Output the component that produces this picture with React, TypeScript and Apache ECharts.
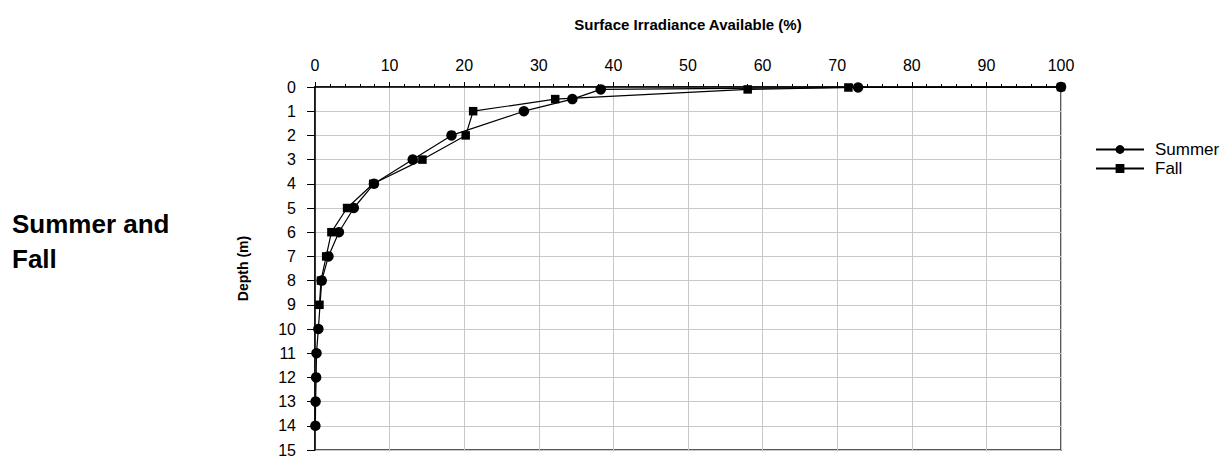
import React, { useEffect, useRef } from "react";
import * as echarts from "echarts";

// Depth (m) and surface irradiance available (%)
const summerDepth = [0, 0.02, 0.1, 0.5, 1, 2, 3, 4, 5, 6, 7, 8, 10, 11, 12, 13, 14];
const summerIrr = [100, 72.8, 38.3, 34.5, 28, 18.3, 13.1, 7.9, 5.2, 3.2, 1.8, 0.9, 0.45, 0.2, 0.15, 0.08, 0.05];

const fallDepth = [0, 0.02, 0.1, 0.5, 1, 2, 3, 4, 5, 6, 7, 8, 9];
const fallIrr = [100, 71.5, 58, 32.2, 21.2, 20.2, 14.4, 7.8, 4.3, 2.2, 1.5, 0.8, 0.6];

const seriesNames = ["Summer", "Fall"];
const xTitle = "Surface Irradiance Available (%)";
const yTitle = "Depth (m)";
const sideTitle = "Summer and\nFall";

const FONT = "'Liberation Sans', Arial, Helvetica, sans-serif";

export default function App() {
  const ref = useRef<HTMLDivElement>(null);
  useEffect(() => {
    if (!ref.current) return;
    const chart = echarts.init(ref.current, undefined, { renderer: "svg" });
    const summer = summerDepth.map((d, i) => [summerIrr[i], d]);
    const fall = fallDepth.map((d, i) => [fallIrr[i], d]);
    chart.setOption({
      animation: false,
      backgroundColor: "#fff",
      textStyle: { fontFamily: FONT },
      grid: {
        left: 315,
        right: 163,
        top: 87,
        bottom: 7,
        show: true,
        borderColor: "#222",
        borderWidth: 1.5,
        backgroundColor: "transparent",
      },
      legend: {
        data: seriesNames,
        orient: "vertical",
        left: 1090,
        top: 136,
        itemWidth: 48,
        itemHeight: 11,
        itemGap: 2,
        textStyle: { fontSize: 17, color: "#000", fontFamily: FONT, padding: [0, 0, 0, 6] },
      },
      graphic: [
        {
          type: "text",
          left: 12,
          top: 206,
          style: {
            text: sideTitle,
            font: `bold 26px ${FONT}`,
            fill: "#000",
            lineHeight: 35,
          },
        },
      ],
      xAxis: {
        type: "value",
        position: "top",
        min: 0,
        max: 100,
        interval: 10,
        name: xTitle,
        nameLocation: "middle",
        nameGap: 55,
        nameTextStyle: { fontSize: 15, fontWeight: "bold", color: "#000", fontFamily: FONT },
        axisLine: { show: true, lineStyle: { color: "#000", width: 1.5 } },
        axisTick: { show: true, inside: false, length: 5, lineStyle: { color: "#000" } },
        minorTick: { show: true, splitNumber: 5, length: 3, lineStyle: { color: "#000" } },
        axisLabel: { fontSize: 16, color: "#000", margin: 14, fontFamily: FONT },
        splitLine: { show: true, lineStyle: { color: "#c8c8c8", width: 1 } },
      },
      yAxis: {
        type: "value",
        inverse: true,
        min: 0,
        max: 15,
        interval: 1,
        name: yTitle,
        nameLocation: "middle",
        nameRotate: 90,
        nameGap: 65,
        nameTextStyle: { fontSize: 14, fontWeight: "bold", color: "#000", fontFamily: FONT },
        axisLine: { show: true, lineStyle: { color: "#000", width: 1.5 } },
        axisTick: { show: true, inside: false, length: 8, lineStyle: { color: "#000" } },
        axisLabel: { fontSize: 16, color: "#000", margin: 19, fontFamily: FONT },
        splitLine: { show: true, lineStyle: { color: "#c8c8c8", width: 1 } },
      },
      series: [
        {
          name: "Fall",
          type: "line",
          data: fall,
          symbol: "rect",
          symbolSize: 8.5,
          itemStyle: { color: "#000" },
          lineStyle: { color: "#000", width: 1.2 },
          z: 2,
        },
        {
          name: "Summer",
          type: "line",
          data: summer,
          symbol: "circle",
          symbolSize: 10.5,
          itemStyle: { color: "#000" },
          lineStyle: { color: "#000", width: 1.2 },
          z: 3,
        },
      ],
    });
    return () => chart.dispose();
  }, []);
  return (
    <div
      ref={ref}
      style={{ position: "fixed", left: 0, top: 0, width: 1224, height: 458 }}
    />
  );
}
